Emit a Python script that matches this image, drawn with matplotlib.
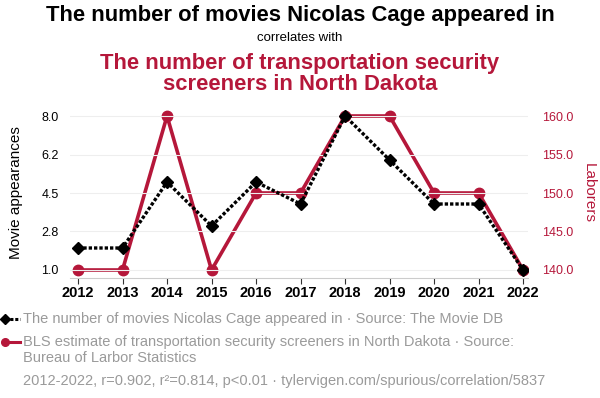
import matplotlib
matplotlib.use("Agg")
import matplotlib.pyplot as plt
from matplotlib.lines import Line2D

plt.rcParams['font.family'] = ['Liberation Sans', 'DejaVu Sans']

years = [2012, 2013, 2014, 2015, 2016, 2017, 2018, 2019, 2020, 2021, 2022]
movies = [2, 2, 5, 3, 5, 4, 8, 6, 4, 4, 1]
laborers = [140, 140, 160, 140, 150, 150, 160, 160, 150, 150, 140]
left_ticks = [1.0, 2.75, 4.5, 6.25, 8.0]
left_labels = ["1.0", "2.8", "4.5", "6.2", "8.0"]
right_ticks = [140, 145, 150, 155, 160]
right_labels = ["140.0", "145.0", "150.0", "155.0", "160.0"]

RED = '#b5173a'
GRAY = '#9a9a9a'
W, H = 600, 398

fig = plt.figure(figsize=(6, 3.98), dpi=100)
ax = fig.add_axes([70/W, 1-278/H, (528-70)/W, (278-108)/H])
ax2 = ax.twinx()

ax2.plot(years, laborers, color=RED, lw=2.6, marker='o', ms=7.5, zorder=2)
ax.plot(years, movies, color='black', lw=2.4, ls=(0, (1, 0.6)), marker='D', ms=6.5, zorder=3)
ax.set_zorder(ax2.get_zorder() + 1)
ax.patch.set_visible(False)

ax.set_xlim(2011.82, 2022.11)
ax.set_ylim(0.636, 8.364)
ax2.set_ylim(138.96, 161.04)

for a in (ax, ax2):
    for s in a.spines.values():
        s.set_visible(False)
ax.spines['bottom'].set_visible(True)
ax.spines['bottom'].set_color('#cccccc')
ax.spines['bottom'].set_linewidth(0.8)

ax.set_xticks(years)
ax.set_xticklabels([str(y) for y in years], fontsize=10.5, fontweight='bold')
ax.tick_params(axis='x', length=4, color='#333333', pad=2)
ax.set_yticks(left_ticks)
ax.set_yticklabels(left_labels, fontsize=9)
ax.tick_params(axis='y', length=0, pad=8)
ax2.set_yticks(right_ticks)
ax2.set_yticklabels(right_labels, fontsize=9, color=RED)
ax2.tick_params(axis='y', length=0, pad=10)

for t in left_ticks:
    ax.axhline(t, color='#eeeeee', lw=0.8, zorder=0)

ax.set_ylabel("Movie appearances", fontsize=11, labelpad=13)
ax2.set_ylabel("Laborers", fontsize=11, color=RED, rotation=270, labelpad=16)

fig.text(0.5, 1-16/H, "The number of movies Nicolas Cage appeared in", ha='center', va='center',
         fontsize=15.8, fontweight='bold', color='black')
fig.text(0.5, 1-38/H, "correlates with", ha='center', va='center', fontsize=9.5, color='black')
fig.text(0.5, 1-74/H, "The number of transportation security\nscreeners in North Dakota", ha='center',
         va='center', fontsize=15.8, fontweight='bold', color=RED, linespacing=0.98)

# legend
y1 = 1-319/H
fig.add_artist(Line2D([5/W, 20/W], [y1, y1], transform=fig.transFigure, color='black', lw=2.2,
                      ls=(0, (1, 0.6))))
fig.add_artist(Line2D([5/W], [y1], transform=fig.transFigure, color='black', marker='D', ms=5))
fig.text(23/W, y1, "The number of movies Nicolas Cage appeared in · Source: The Movie DB",
         ha='left', va='center', fontsize=10.5, color=GRAY)
y2 = 1-342/H
fig.add_artist(Line2D([5/W, 20/W], [y2, y2], transform=fig.transFigure, color=RED, lw=2.2))
fig.add_artist(Line2D([5/W], [y2], transform=fig.transFigure, color=RED, marker='o', ms=5.5))
fig.text(23/W, y2, "BLS estimate of transportation security screeners in North Dakota · Source:",
         ha='left', va='center', fontsize=10.5, color=GRAY)
fig.text(23/W, 1-358/H, "Bureau of Larbor Statistics",
         ha='left', va='center', fontsize=10.5, color=GRAY)
fig.text(23/W, 1-381/H, "2012-2022, r=0.902, r²=0.814, p<0.01 · tylervigen.com/spurious/correlation/5837",
         ha='left', va='center', fontsize=10.5, color=GRAY)

fig.savefig("out.png", dpi=100)
